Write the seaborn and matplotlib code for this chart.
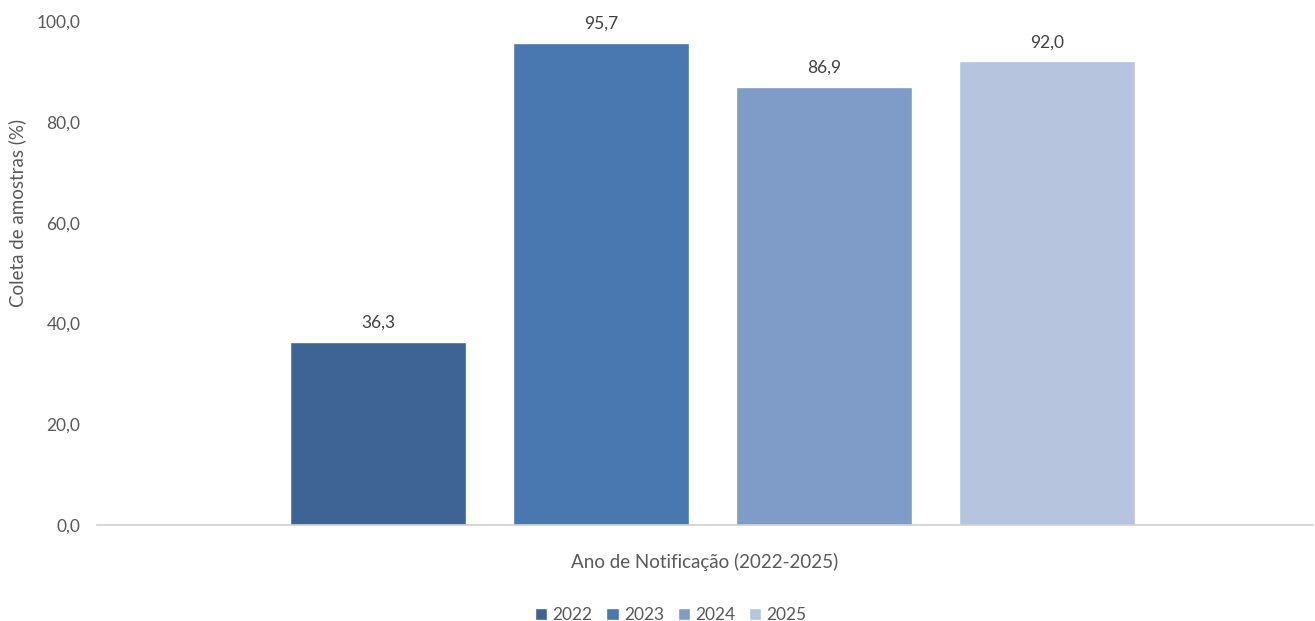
import matplotlib
matplotlib.use("Agg")
import matplotlib.pyplot as plt
import seaborn as sns
import pandas as pd

# Data
anos = ["2022", "2023", "2024", "2025"]
coleta = [36.3, 95.7, 86.9, 92.0]
cores = ["#3D6495", "#4878AF", "#7F9BC7", "#B6C4DE"]

sns.set_theme(style="white")
plt.rcParams['font.family'] = ['Lato', 'DejaVu Sans']

df = pd.DataFrame({"ano": anos, "coleta": coleta})

fig = plt.figure(figsize=(13.15, 6.21), dpi=100)
ax = fig.add_axes([0.0738, 0.1546, 0.9247, 0.8115])

sns.barplot(data=df, x="ano", y="coleta", hue="ano", palette=cores,
            width=0.79, dodge=False, legend=True, saturation=1, ax=ax)

for p, v in zip(ax.patches, coleta):
    ax.text(p.get_x() + p.get_width() / 2, v + 2.2, f"{v:.1f}".replace(".", ","),
            ha="center", va="bottom", fontsize=12.5, color="#404040")

ax.set_ylim(0, 100)
ax.set_xlim(-1.26, 4.195)
ax.set_yticks([0, 20, 40, 60, 80, 100])
ax.set_yticklabels([f"{t:.1f}".replace(".", ",") for t in [0, 20, 40, 60, 80, 100]],
                   fontsize=12.5, color="#595959")
ax.set_xticks([])
ax.set_xlabel("Ano de Notificação (2022-2025)", fontsize=13.5, color="#595959", labelpad=20)
ax.set_ylabel("Coleta de amostras (%)", fontsize=13.5, color="#595959")
ax.yaxis.set_label_coords(-0.058, 0.62)
ax.tick_params(axis="y", length=0, pad=12)

for s in ["top", "right", "left"]:
    ax.spines[s].set_visible(False)
ax.spines["bottom"].set_color("#D0D0D0")
ax.spines["bottom"].set_linewidth(1.2)

ax.legend(loc="lower center", bbox_to_anchor=(0.472, -0.225), ncol=4, frameon=False,
          fontsize=12.5, handlelength=0.7, handleheight=0.7, handletextpad=0.3,
          columnspacing=0.8, labelcolor="#595959")

fig.savefig("out.png", dpi=100)
